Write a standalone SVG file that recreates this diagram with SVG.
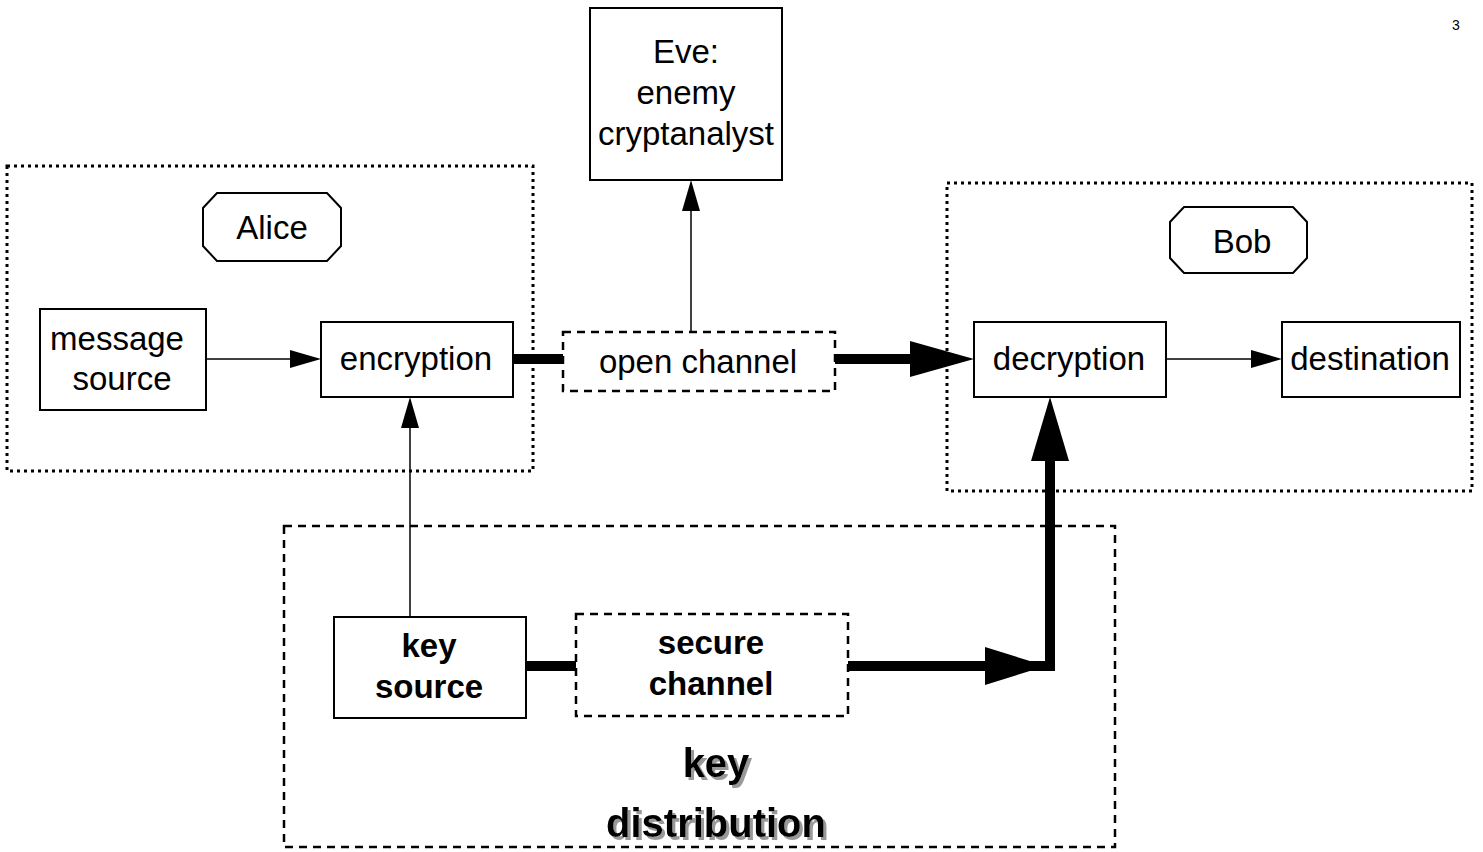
<svg xmlns="http://www.w3.org/2000/svg" width="1483" height="852" viewBox="0 0 1483 852">
<style>
.t{font-family:"Liberation Sans",Arial,sans-serif;font-size:33px;fill:#000;text-anchor:middle}
.b{font-weight:bold}
.box{fill:#fff;stroke:#000;stroke-width:2}
.dot{fill:none;stroke:#000;stroke-width:3;stroke-dasharray:3 4}
.dash{fill:#fff;stroke:#000;stroke-width:2.5;stroke-dasharray:8 6}
.thin{stroke:#000;stroke-width:1.5;fill:none}
.thick{stroke:#000;stroke-width:10;fill:none}
.head{fill:#000}
</style>
<defs>
<filter id="shadow" x="-10%" y="-20%" width="120%" height="150%">
<feFlood flood-color="#999"/>
<feComposite in2="SourceAlpha" operator="in"/>
<feOffset dx="3" dy="3" result="s"/>
<feMerge><feMergeNode in="s"/><feMergeNode in="SourceGraphic"/></feMerge>
</filter>
</defs>
<rect width="1483" height="852" fill="#fff"/>
<text x="1456" y="30" style="font-family:'Liberation Sans',Arial,sans-serif;font-size:14px" text-anchor="middle">3</text>

<g id="alice-group"><rect class="dot" x="7" y="166" width="526" height="305"/></g>
<g id="bob-group"><rect class="dot" x="947" y="183" width="525" height="308"/></g>
<g id="keydist-group"><rect class="dash" x="284" y="526" width="831" height="321" style="fill:none"/></g>

<g id="connectors">
  <line class="thin" x1="206" y1="359" x2="292" y2="359"/>
  <polygon class="head" points="321,359 290,350 290,368"/>
  <line class="thin" x1="410" y1="617" x2="410" y2="426"/>
  <polygon class="head" points="410,397 401,428 419,428"/>
  <line class="thin" x1="691" y1="332" x2="691" y2="210"/>
  <polygon class="head" points="691,180 682,211 700,211"/>
  <line class="thin" x1="1166" y1="359" x2="1252" y2="359"/>
  <polygon class="head" points="1282,359 1251,350 1251,368"/>
  <line class="thick" x1="513" y1="359" x2="563" y2="359"/>
  <line class="thick" x1="835" y1="359" x2="912" y2="359"/>
  <polygon class="head" points="974,359 910,341 910,377"/>
  <line class="thick" x1="526" y1="666" x2="576" y2="666"/>
  <polyline class="thick" points="848,666 1050,666 1050,458"/>
  <line x1="1045" y1="666" x2="1055" y2="666" stroke="#000" stroke-width="10"/>
  <polygon class="head" points="1046,666 985,647 985,685"/>
  <polygon class="head" points="1050,397 1031,461 1069,461"/>
</g>

<g id="alice"><polygon class="box" points="217,193 327,193 341,208 341,246 327,261 217,261 203,246 203,208"/><text class="t" x="272" y="239">Alice</text></g>
<g id="bob"><polygon class="box" points="1184,207 1293,207 1307,222 1307,258 1293,273 1184,273 1170,258 1170,222"/><text class="t" x="1242" y="253">Bob</text></g>
<g id="message-source"><rect class="box" x="40" y="309" width="166" height="101"/><text class="t" x="117" y="350">message</text><text class="t" x="122" y="390">source</text></g>
<g id="encryption"><rect class="box" x="321" y="322" width="192" height="75"/><text class="t" x="416" y="370">encryption</text></g>
<g id="open-channel"><rect class="dash" x="563" y="332" width="272" height="59"/><text class="t" x="698" y="373">open channel</text></g>
<g id="eve"><rect class="box" x="590" y="8" width="192" height="172"/><text class="t" x="686" y="63">Eve:</text><text class="t" x="686" y="104">enemy</text><text class="t" x="686" y="145">cryptanalyst</text></g>
<g id="decryption"><rect class="box" x="974" y="322" width="192" height="75"/><text class="t" x="1069" y="370">decryption</text></g>
<g id="destination"><rect class="box" x="1282" y="322" width="178" height="75"/><text class="t" x="1370" y="370">destination</text></g>
<g id="key-source"><rect class="box" x="334" y="617" width="192" height="101"/><text class="t b" x="429" y="657">key</text><text class="t b" x="429" y="698">source</text></g>
<g id="secure-channel"><rect class="dash" x="576" y="614" width="272" height="102"/><text class="t b" x="711" y="654">secure</text><text class="t b" x="711" y="695">channel</text></g>
<g id="key-distribution-label" filter="url(#shadow)">
  <text class="t b" x="716" y="777" style="font-size:40px">key</text>
  <text class="t b" x="716" y="837" style="font-size:40px">distribution</text>
</g>
</svg>
